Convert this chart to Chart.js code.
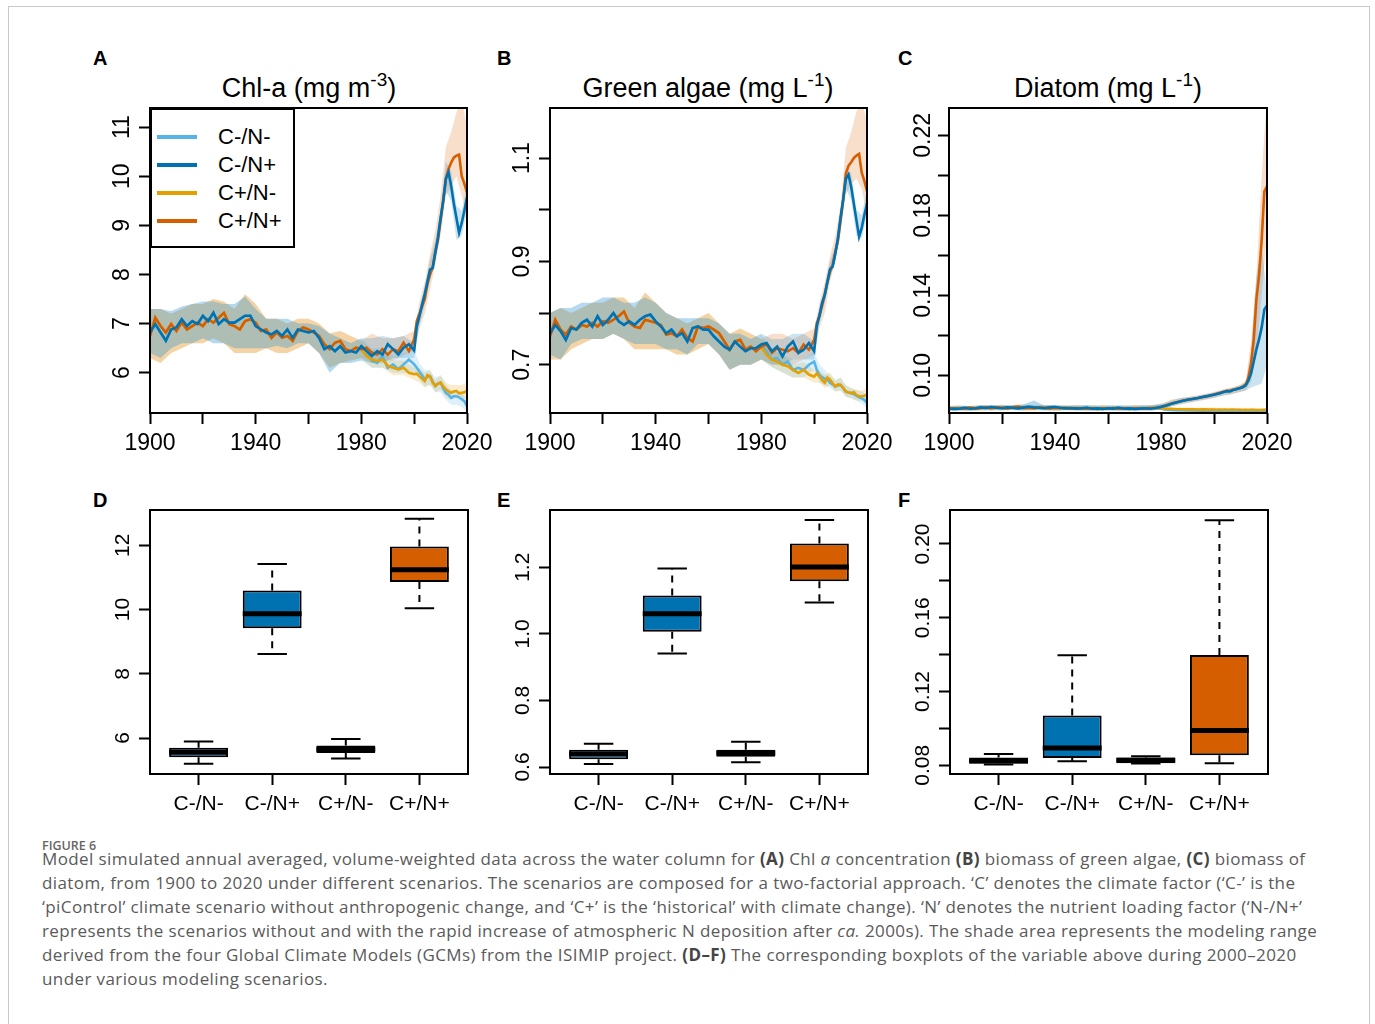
<!DOCTYPE html>
<html>
<head>
<meta charset="utf-8">
<script src="https://cdn.jsdelivr.net/npm/chart.js@4.4.1/dist/chart.umd.min.js"></script>
<style>
  body { margin: 0; width: 1375px; height: 1024px; overflow: hidden; position: relative; background: #fff;
         font-family: "Liberation Sans", Arial, sans-serif; color: #000; }
  .frame { position: absolute; left: 8px; top: 6px; width: 1362px; height: 1100px; border: 1px solid #c8c8c8; box-sizing: border-box; }
  canvas { position: absolute; }
  .letter { position: absolute; font-weight: bold; font-size: 20px; line-height: 20px; }
  .ttl { position: absolute; top: 75px; font-size: 27px; line-height: 27px; white-space: nowrap; transform: translateX(-50%); }
  .ttl span { font-size: 19px; position: relative; top: -11px; }
  #legend { position: absolute; left: 150px; top: 108px; width: 145px; height: 140px; border: 2px solid #000;
            box-sizing: border-box; background: #fff; z-index: 2; }
  #legend .row { position: absolute; left: 0; height: 28px; width: 140px; }
  #legend .swatch { position: absolute; left: 5px; top: 12px; width: 40px; height: 4px; }
  #legend .txt { position: absolute; left: 66px; top: 2px; font-size: 22px; line-height: 24px; }
  .cap { position: absolute; left: 42px; font-family: "Open Sans", sans-serif; color: #5a5a5a; white-space: nowrap; }
  .figno { top: 840px; font-size: 12.5px; line-height: 12.5px; font-weight: 600; color: #666; }
  .capline { font-size: 17px; line-height: 24px; letter-spacing: 0.4px; }
  .capline b { font-weight: 700; color: #444; }
</style>
</head>
<body>
<div class="frame"></div>

<div class="letter" style="left:93px; top:48px">A</div>
<div class="letter" style="left:497px; top:48px">B</div>
<div class="letter" style="left:898px; top:48px">C</div>
<div class="letter" style="left:93px; top:490px">D</div>
<div class="letter" style="left:497px; top:490px">E</div>
<div class="letter" style="left:898px; top:490px">F</div>

<div class="ttl" style="left:309px">Chl-a (mg m<span>-3</span>)</div>
<div class="ttl" style="left:708px">Green algae (mg L<span>-1</span>)</div>
<div class="ttl" style="left:1108px">Diatom (mg L<span>-1</span>)</div>

<canvas id="chartA"></canvas>
<canvas id="chartB"></canvas>
<canvas id="chartC"></canvas>
<canvas id="chartD"></canvas>
<canvas id="chartE"></canvas>
<canvas id="chartF"></canvas>
<div id="legend"></div>

<div class="cap figno">FIGURE 6</div>
<div class="cap capline" style="top:847px">Model simulated annual averaged, volume-weighted data across the water column for <b>(A)</b> Chl <i>a</i> concentration <b>(B)</b> biomass of green algae, <b>(C)</b> biomass of</div>
<div class="cap capline" style="top:871px">diatom, from 1900 to 2020 under different scenarios. The scenarios are composed for a two-factorial approach. ‘C’ denotes the climate factor (‘C-’ is the</div>
<div class="cap capline" style="top:895px">‘piControl’ climate scenario without anthropogenic change, and ‘C+’ is the ‘historical’ with climate change). ‘N’ denotes the nutrient loading factor (‘N-/N+’</div>
<div class="cap capline" style="top:919px">represents the scenarios without and with the rapid increase of atmospheric N deposition after <i>ca.</i> 2000s). The shade area represents the modeling range</div>
<div class="cap capline" style="top:943px">derived from the four Global Climate Models (GCMs) from the ISIMIP project. <b>(D–F)</b> The corresponding boxplots of the variable above during 2000–2020</div>
<div class="cap capline" style="top:967px">under various modeling scenarios.</div>

<script>
const FONT = '"Liberation Sans", Arial, sans-serif';

// scenarios
const seriesNames = ['C-/N-', 'C-/N+', 'C+/N-', 'C+/N+'];
const seriesColors = ['#56B4E9', '#0072B2', '#E69F00', '#D55E00'];
const bandColors = ['rgba(86,180,233,0.2)', 'rgba(0,114,178,0.2)', 'rgba(230,159,0,0.2)', 'rgba(213,94,0,0.2)'];

// years of the line series and of the GCM range bands
const years = [1900,1902,1904,1906,1908,1910,1912,1914,1916,1918,1920,1922,1924,1926,1928,1930,1932,1934,1936,1938,
  1940,1942,1944,1946,1948,1950,1952,1954,1956,1958,1960,1962,1964,1966,1968,1970,1972,1974,1976,1978,
  1980,1982,1984,1986,1988,1990,1992,1994,1996,1998,
  2000,2001,2002,2003,2004,2005,2006,2007,2008,2009,2010,2011,2012,2013,2014,2015,2016,2017,2018,2019,2020];
const bandYears = [1900,1904,1908,1912,1916,1920,1924,1928,1932,1936,1940,1944,1948,1952,1956,1960,1964,1968,1972,1976,
  1980,1984,1988,1992,1996,2000,2002,2004,2006,2008,2010,2012,2014,2016,2018,2020];
const xTicks = [1900, 1920, 1940, 1960, 1980, 2000, 2020];
const xTickLabels = ['1900', '', '1940', '', '1980', '', '2020'];

// ---- A: Chl-a ----
const chlCmNp = [6.82,6.99,6.82,6.65,6.88,6.92,7.09,6.95,7.05,6.99, 7.16,7.05,7.22,6.99,7.09,7.02,7.02,7.09,7.16,7.16,
  6.95,6.88,6.82,6.78,6.85,6.75,6.88,6.71,6.88,6.85, 6.82,6.85,6.71,6.48,6.54,6.44,6.54,6.41,6.44,6.41,
  6.54,6.44,6.34,6.44,6.37,6.58,6.48,6.37,6.51,6.58,
  6.45,6.95,7.15,7.39,7.6,7.85,8.10,8.13,8.45,8.75,9.15,9.5,9.95,10.08,9.8,9.45,9.15,8.85,9.05,9.3,9.57];
const chlCpNp = [6.75,7.12,6.95,6.82,6.99,6.85,7.02,6.88,6.95,7.02, 6.95,7.09,7.02,7.12,7.22,6.99,6.95,6.88,7.05,7.09,
  7.02,6.85,6.88,6.71,6.82,6.71,6.75,6.65,6.85,6.92, 6.88,6.82,6.75,6.58,6.48,6.61,6.65,6.48,6.44,6.51,
  6.48,6.51,6.41,6.37,6.48,6.37,6.48,6.44,6.61,6.44,
  6.68,7.05,7.2,7.35,7.5,7.8,8.0,8.15,8.45,8.7,9.1,9.5,9.95,10.15,10.28,10.38,10.42,10.44,10.0,9.85,9.67];
const chlCmNm = [6.82,6.99,6.82,6.65,6.88,6.92,7.09,6.95,7.05,6.99, 7.16,7.05,7.22,6.99,7.09,7.02,7.02,7.09,7.16,7.16,
  6.95,6.88,6.82,6.78,6.85,6.75,6.88,6.71,6.88,6.85, 6.82,6.85,6.71,6.48,6.54,6.44,6.54,6.41,6.44,6.41,
  6.54,6.44,6.24,6.20,6.34,6.10,6.17,6.07,6.17,6.27,
  6.17,6.1,6.02,5.95,5.86,5.92,5.93,5.82,5.73,5.78,5.80,5.68,5.59,5.55,5.49,5.52,5.52,5.5,5.46,5.42,5.32];
const chlCpNm = [6.75,7.12,6.95,6.82,6.99,6.85,7.02,6.88,6.95,7.02, 6.95,7.09,7.02,7.12,7.22,6.99,6.95,6.88,7.05,7.09,
  7.02,6.85,6.88,6.71,6.82,6.71,6.75,6.65,6.85,6.92, 6.88,6.82,6.75,6.58,6.48,6.61,6.65,6.48,6.44,6.51,
  6.48,6.34,6.27,6.24,6.27,6.14,6.10,6.07,6.10,6.0,
  5.97,5.98,5.93,5.88,5.83,5.95,5.93,5.8,5.73,5.78,5.80,5.72,5.66,5.62,5.59,5.62,5.63,5.58,5.59,5.6,5.63];
const chlLoCmNm = [6.4,6.3,6.5,6.6,6.6,6.7,6.6,6.6,6.5,6.5,6.5,6.5,6.55,6.5,6.6,6.6,6.4,6.0,6.2,6.2,6.25,6.1,6.1,6.0,6.0,
  6.0,5.85,5.72,5.75,5.6,5.6,5.45,5.35,5.35,5.3,5.2];
const chlHiCmNm = [7.3,7.3,7.25,7.35,7.4,7.45,7.45,7.4,7.4,7.55,7.3,7.1,7.1,7.1,7.0,7.0,6.95,6.8,6.7,6.6,6.7,6.5,6.5,6.35,6.4,
  6.45,6.2,6.05,6.05,5.9,5.95,5.75,5.65,5.65,5.6,5.45];
const chlLoCmNp = [6.4,6.3,6.5,6.6,6.6,6.7,6.6,6.6,6.5,6.5,6.5,6.5,6.55,6.5,6.6,6.6,6.4,6.0,6.2,6.2,6.25,6.2,6.2,6.3,6.3,
  6.3,6.95,7.4,7.9,8.25,8.95,9.7,9.5,8.7,8.8,9.3];
const chlHiCmNp = [7.3,7.3,7.25,7.35,7.4,7.45,7.45,7.4,7.4,7.55,7.3,7.1,7.1,7.1,7.0,7.0,6.95,6.8,6.7,6.6,6.7,6.7,6.75,6.7,6.75,
  6.6,7.3,7.75,8.3,8.7,9.3,10.3,10.1,9.4,9.3,9.8];
const chlLoCpNm = [6.3,6.2,6.4,6.5,6.6,6.6,6.7,6.6,6.4,6.4,6.4,6.5,6.4,6.4,6.5,6.6,6.4,6.1,6.2,6.25,6.3,6.1,6.1,5.95,5.95,
  5.85,5.8,5.7,5.75,5.6,5.65,5.5,5.45,5.5,5.45,5.5];
const chlHiCpNm = [7.3,7.3,7.2,7.3,7.4,7.4,7.5,7.45,7.3,7.6,7.4,7.1,7.1,7.0,7.1,7.1,7.0,6.8,6.85,6.75,6.65,6.45,6.45,6.25,6.25,
  6.1,6.1,6.0,6.05,5.85,5.95,5.8,5.75,5.75,5.75,5.8];
const chlLoCpNp = [6.3,6.2,6.4,6.5,6.6,6.6,6.7,6.6,6.4,6.4,6.4,6.5,6.4,6.4,6.5,6.6,6.4,6.1,6.2,6.25,6.3,6.2,6.25,6.25,6.35,
  6.45,6.9,7.2,7.7,8.2,8.8,9.6,9.8,10.0,9.6,9.2];
const chlHiCpNp = [7.3,7.3,7.2,7.3,7.4,7.4,7.5,7.45,7.3,7.6,7.4,7.1,7.1,7.0,7.1,7.1,7.0,6.8,6.85,6.75,6.65,6.8,6.7,6.7,6.75,
  6.85,7.45,7.85,8.4,8.9,9.6,10.6,10.9,11.3,11.6,11.0];
const chlYTicks = [6, 7, 8, 9, 10, 11];
const chlYLabels = ['6', '7', '8', '9', '10', '11'];

// ---- B: green algae ----
const greenCmNp = [.761,.777,.765,.748,.771,.768,.781,.787,.774,.794, .777,.787,.800,.784,.777,.784,.777,.787,.794,.797,
  .784,.774,.761,.768,.755,.761,.745,.771,.774,.768, .768,.755,.745,.735,.729,.745,.735,.726,.732,.732,
  .739,.742,.726,.735,.716,.735,.745,.723,.729,.742,
  .726,.775,.795,.82,.835,.86,.885,.89,.915,.945,.985,1.02,1.06,1.068,1.045,1.012,.98,.948,.965,.99,1.012];
const greenCpNp = [.755,.787,.768,.758,.774,.768,.777,.774,.781,.774, .784,.781,.787,.794,.803,.781,.774,.771,.787,.784,
  .781,.777,.758,.761,.755,.768,.752,.745,.774,.771, .774,.768,.761,.745,.729,.745,.748,.729,.735,.726,
  .735,.739,.723,.732,.729,.726,.732,.723,.739,.729,
  .748,.78,.795,.815,.835,.86,.88,.893,.918,.94,.98,1.02,1.07,1.085,1.092,1.1,1.105,1.108,1.072,1.056,1.036];
const greenCmNm = [.761,.777,.765,.748,.771,.768,.781,.787,.774,.794, .777,.787,.800,.784,.777,.784,.777,.787,.794,.797,
  .784,.774,.761,.768,.755,.761,.745,.771,.774,.768, .768,.755,.745,.735,.729,.745,.735,.726,.732,.732,
  .739,.726,.710,.713,.700,.706,.690,.694,.690,.700,
  .706,.69,.68,.676,.673,.672,.665,.662,.658,.66,.661,.655,.648,.646,.645,.643,.64,.637,.635,.632,.626];
const greenCpNm = [.755,.787,.768,.758,.774,.768,.777,.774,.781,.774, .784,.781,.787,.794,.803,.781,.774,.771,.787,.784,
  .781,.777,.758,.761,.755,.768,.752,.745,.774,.771, .774,.768,.761,.745,.729,.745,.748,.729,.735,.726,
  .735,.719,.710,.706,.700,.697,.690,.684,.690,.681,
  .677,.683,.677,.67,.665,.675,.671,.664,.658,.662,.661,.655,.648,.646,.645,.647,.641,.639,.639,.64,.642];
const greenLoCmNm = [.72,.71,.74,.75,.75,.75,.76,.75,.74,.74,.74,.73,.73,.72,.74,.74,.72,.69,.70,.70,.71,.695,.685,.675,.675,
  .69,.665,.66,.655,.648,.65,.638,.635,.63,.625,.615];
const greenHiCmNm = [.80,.81,.81,.82,.82,.83,.83,.82,.82,.83,.82,.80,.79,.79,.79,.79,.78,.76,.76,.75,.76,.73,.72,.71,.71,
  .725,.70,.69,.68,.67,.675,.66,.655,.65,.648,.64];
const greenLoCmNp = [.72,.71,.74,.75,.75,.75,.76,.75,.74,.74,.74,.73,.73,.72,.74,.74,.72,.69,.70,.70,.71,.70,.70,.71,.71,
  .71,.78,.82,.87,.90,.97,1.04,1.02,.95,.945,.99];
const greenHiCmNp = [.80,.81,.81,.82,.82,.83,.83,.82,.82,.83,.82,.80,.79,.79,.79,.79,.78,.76,.76,.75,.76,.75,.75,.76,.76,
  .745,.81,.85,.90,.93,1.0,1.08,1.07,1.0,.99,1.04];
const greenLoCpNm = [.71,.71,.73,.74,.75,.75,.76,.75,.73,.73,.73,.73,.72,.72,.73,.74,.72,.69,.70,.70,.71,.695,.685,.675,.675,
  .665,.665,.655,.66,.648,.65,.638,.635,.63,.63,.63];
const greenHiCpNm = [.80,.81,.80,.81,.82,.82,.83,.83,.81,.84,.82,.80,.79,.78,.79,.80,.78,.76,.77,.76,.75,.73,.72,.70,.705,
  .69,.69,.68,.685,.67,.675,.66,.655,.652,.65,.655];
const greenLoCpNp = [.71,.71,.73,.74,.75,.75,.76,.75,.73,.73,.73,.73,.72,.72,.73,.74,.72,.69,.70,.70,.71,.70,.70,.70,.71,
  .72,.77,.80,.86,.90,.955,1.03,1.05,1.06,1.04,.99];
const greenHiCpNp = [.80,.81,.80,.81,.82,.82,.83,.83,.81,.84,.82,.80,.79,.78,.79,.80,.78,.76,.77,.76,.75,.76,.76,.75,.76,
  .77,.82,.86,.91,.95,1.01,1.12,1.15,1.19,1.21,1.17];
const greenYTicks = [0.7, 0.8, 0.9, 1.0, 1.1];
const greenYLabels = ['0.7', '', '0.9', '', '1.1'];

// ---- C: diatom ----
const diaCmNp = [.0835,.0832,.0834,.0838,.0833,.0836,.0840,.0837,.0842,.0838, .0836,.0840,.0838,.0835,.0839,.0843,.0840,.0838,.0836,.0840,
  .0842,.0838,.0835,.0837,.0834,.0836,.0838,.0833,.0835,.0832, .0836,.0834,.0838,.0833,.0835,.0832,.0834,.0836,.0833,.0837,
  .0842,.0850,.0858,.0866,.0872,.0878,.0882,.0887,.0893,.0898,
  .0903,.0907,.0910,.0914,.0918,.0921,.0920,.0926,.0929,.0933,.0937,.0942,.0950,.0975,.101,.107,.113,.118,.124,.133,.135];
const diaCpNp = [.0832,.0836,.0833,.0835,.0839,.0834,.0837,.0840,.0836,.0841, .0838,.0835,.0840,.0844,.0837,.0839,.0836,.0840,.0838,.0835,
  .0839,.0836,.0838,.0834,.0837,.0833,.0836,.0835,.0832,.0835, .0833,.0837,.0834,.0836,.0832,.0835,.0833,.0835,.0837,.0838,
  .0843,.0851,.0860,.0866,.0873,.0878,.0883,.0887,.0892,.0897,
  .0905,.0908,.0912,.0916,.0920,.0924,.0922,.0928,.0931,.0935,.0938,.0945,.0955,.0990,.106,.118,.138,.150,.168,.192,.1945];
const diaCmNm = [.0835,.0832,.0834,.0838,.0833,.0836,.0840,.0837,.0842,.0838, .0836,.0840,.0838,.0835,.0839,.0843,.0840,.0838,.0836,.0840,
  .0842,.0838,.0835,.0837,.0834,.0836,.0838,.0833,.0835,.0832, .0836,.0834,.0838,.0833,.0835,.0832,.0834,.0836,.0833,.0837,
  .0834,.0829,.0827,.0826,.0826,.0825,.0825,.0824,.0825,.0824,
  .0824,.0823,.0824,.0823,.0824,.0823,.0823,.0824,.0823,.0822,.0823,.0822,.0823,.0822,.0822,.0823,.0822,.0822,.0821,.0822,.0822];
const diaCpNm = [.0832,.0836,.0833,.0835,.0839,.0834,.0837,.0840,.0836,.0841, .0838,.0835,.0840,.0844,.0837,.0839,.0836,.0840,.0838,.0835,
  .0839,.0836,.0838,.0834,.0837,.0833,.0836,.0835,.0832,.0835, .0833,.0837,.0834,.0836,.0832,.0835,.0833,.0835,.0837,.0838,
  .0836,.0833,.0832,.0831,.0831,.0830,.0830,.0829,.0830,.0829,
  .0829,.0828,.0829,.0828,.0829,.0828,.0828,.0829,.0828,.0828,.0828,.0827,.0828,.0827,.0828,.0828,.0827,.0827,.0827,.0828,.0828];
const diaLoCmNm = [.0825,.0826,.0824,.0827,.0826,.0828,.0827,.0826,.0828,.0826,.0825,.0827,.0826,.0825,.0824,.0826,.0825,.0824,.0826,.0825,.0830,
  .0818,.0817,.0817,.0816, .0816,.0815,.0816,.0815,.0815,.0814,.0815,.0814,.0814,.0813,.0813];
const diaHiCmNm = [.0845,.0848,.0846,.0850,.0852,.0849,.0851,.0854,.0875,.0850,.0852,.0848,.0850,.0851,.0848,.0849,.0850,.0848,.0850,.0851,.0858,
  .0838,.0836,.0835,.0835, .0834,.0834,.0833,.0834,.0833,.0832,.0833,.0832,.0832,.0832,.0831];
const diaLoCmNp = [.0825,.0826,.0824,.0827,.0826,.0828,.0827,.0826,.0828,.0826,.0825,.0827,.0826,.0825,.0824,.0826,.0825,.0824,.0826,.0825,.0830,
  .0845,.0858,.0868,.0878, .0888,.0895,.0902,.0905,.0912,.0918,.0925,.0940,.0950,.0960,.1050];
const diaHiCmNp = [.0845,.0848,.0846,.0850,.0852,.0849,.0851,.0854,.0875,.0850,.0852,.0848,.0850,.0851,.0848,.0849,.0850,.0848,.0850,.0851,.0858,
  .0875,.0890,.0895,.0905, .0915,.0922,.0930,.0935,.0942,.0952,.0965,.1120,.1500,.1650,.1400];
const diaLoCpNm = [.0822,.0824,.0823,.0825,.0826,.0825,.0827,.0824,.0825,.0826,.0824,.0826,.0825,.0824,.0823,.0825,.0824,.0823,.0825,.0824,.0828,
  .0822,.0821,.0821,.0820, .0820,.0820,.0819,.0820,.0819,.0819,.0819,.0818,.0818,.0818,.0818];
const diaHiCpNm = [.0848,.0850,.0847,.0852,.0849,.0853,.0850,.0855,.0851,.0852,.0850,.0849,.0851,.0850,.0849,.0850,.0848,.0849,.0851,.0850,.0856,
  .0842,.0840,.0840,.0839, .0839,.0838,.0839,.0838,.0838,.0838,.0837,.0838,.0837,.0837,.0837];
const diaLoCpNp = [.0822,.0824,.0823,.0825,.0826,.0825,.0827,.0824,.0825,.0826,.0824,.0826,.0825,.0824,.0823,.0825,.0824,.0823,.0825,.0824,.0828,
  .0845,.0857,.0866,.0876, .0887,.0893,.0900,.0905,.0910,.0917,.0925,.0970,.1120,.1400,.1700];
const diaHiCpNp = [.0848,.0850,.0847,.0852,.0849,.0853,.0850,.0855,.0851,.0852,.0850,.0849,.0851,.0850,.0849,.0850,.0848,.0849,.0851,.0850,.0856,
  .0880,.0888,.0896,.0906, .0918,.0925,.0932,.0938,.0945,.0955,.0975,.1170,.1500,.2000,.2400];
const diaYTicks = [0.10, 0.12, 0.14, 0.16, 0.18, 0.20, 0.22];
const diaYLabels = ['0.10', '', '0.14', '', '0.18', '', '0.22'];

// ---- D-F: boxplots 2000-2020 (lower whisker, q1, median, q3, upper whisker) ----
const boxCategories = ['C-/N-', 'C-/N+', 'C+/N-', 'C+/N+'];
const chlBoxLow = [5.20, 8.62, 5.36, 10.04];
const chlBoxQ1 = [5.40, 9.42, 5.53, 10.86];
const chlBoxMed = [5.56, 9.87, 5.65, 11.24];
const chlBoxQ3 = [5.70, 10.59, 5.77, 11.96];
const chlBoxHigh = [5.89, 11.42, 5.97, 12.83];
const greenBoxLow = [0.609, 0.941, 0.614, 1.094];
const greenBoxQ1 = [0.623, 1.006, 0.631, 1.158];
const greenBoxMed = [0.639, 1.060, 0.642, 1.201];
const greenBoxQ3 = [0.652, 1.115, 0.652, 1.271];
const greenBoxHigh = [0.670, 1.196, 0.676, 1.342];
const diaBoxLow = [0.0805, 0.0822, 0.0810, 0.0811];
const diaBoxQ1 = [0.0808, 0.0840, 0.0811, 0.0854];
const diaBoxMed = [0.0825, 0.0894, 0.0827, 0.0989];
const diaBoxQ3 = [0.0842, 0.1070, 0.0842, 0.1398];
const diaBoxHigh = [0.0862, 0.1397, 0.0849, 0.2128];
const chlBoxYTicks = [6, 8, 10, 12];
const chlBoxYLabels = ['6', '8', '10', '12'];
const greenBoxYTicks = [0.6, 0.8, 1.0, 1.2];
const greenBoxYLabels = ['0.6', '0.8', '1.0', '1.2'];
const diaBoxYTicks = [0.08, 0.10, 0.12, 0.14, 0.16, 0.18, 0.20];
const diaBoxYLabels = ['0.08', '', '0.12', '', '0.16', '', '0.20'];

const pts = (xs, ys) => xs.map((x, i) => ({ x: x, y: ys[i] }));

// black box round the plot region, like R's box()
const framePlugin = {
    id: 'frame',
    afterDatasetsDraw(chart) {
        const a = chart.chartArea, ctx = chart.ctx;
        ctx.save();
        ctx.strokeStyle = '#000';
        ctx.lineWidth = 2;
        ctx.strokeRect(a.left, a.top, a.right - a.left, a.bottom - a.top);
        ctx.restore();
    }
};

function axis(min, max, ticks, labels, isY, pad, size) {
    return {
        type: 'linear', min: min, max: max, bounds: 'data', offset: false,
        afterBuildTicks: s => { s.ticks = ticks.map(v => ({ value: v })); },
        afterFit: s => { if (isY) s.width = 70; else s.height = 55; },
        grid: { offset: false, drawOnChartArea: false, drawTicks: true, tickLength: 11, tickWidth: 2, tickColor: '#000' },
        border: { display: false },
        ticks: {
            autoSkip: false, color: '#000', padding: pad,
            font: { family: FONT, size: size },
            minRotation: isY ? 90 : 0, maxRotation: isY ? 90 : 0,
            crossAlign: isY ? 'center' : 'near',
            callback: (v, i) => labels[i]
        }
    };
}

function place(canvas, box) {
    canvas.width = box.r - box.l + 110;
    canvas.height = box.b - box.t + 85;
    canvas.style.left = (box.l - 70) + 'px';
    canvas.style.top = (box.t - 30) + 'px';
}

const drawOrder = [4, 1, 3, 2];   // light blue at the bottom, dark blue on top

function lineChart(id, box, yMin, yMax, yTicks, yLabels, yPad, lines, bands) {
    const canvas = document.getElementById(id);
    place(canvas, box);
    const datasets = [];
    lines.forEach((arr, i) => {
        datasets.push({
            data: pts(years, arr), borderColor: seriesColors[i], borderWidth: 2.6,
            pointRadius: 0, fill: false, tension: 0, order: drawOrder[i]
        });
    });
    bands.forEach((b, i) => {
        const loIndex = datasets.length;
        datasets.push({ data: pts(bandYears, b[0]), borderWidth: 0, borderColor: 'rgba(0,0,0,0)', pointRadius: 0, fill: false, order: 10 });
        datasets.push({ data: pts(bandYears, b[1]), borderWidth: 0, borderColor: 'rgba(0,0,0,0)', pointRadius: 0,
            fill: loIndex, backgroundColor: bandColors[i], order: 10 });
    });
    return new Chart(canvas, {
        type: 'line',
        data: { datasets: datasets },
        options: {
            responsive: false, animation: false, events: [],
            layout: { padding: { left: 0, top: 30, right: 40, bottom: 0 } },
            plugins: { legend: { display: false }, tooltip: { enabled: false } },
            scales: {
                x: axis(1900, 2020, xTicks, xTickLabels, false, 6, 23),
                y: axis(yMin, yMax, yTicks, yLabels, true, yPad, 23)
            }
        },
        plugins: [framePlugin]
    });
}

// whiskers, staples and medians drawn from the stats through the chart scales
const boxExtras = {
    id: 'boxExtras',
    afterDatasetsDraw(chart, args, opts) {
        const ctx = chart.ctx, xs = chart.scales.x, ys = chart.scales.y;
        const bars = chart.getDatasetMeta(0).data;
        ctx.save();
        ctx.strokeStyle = '#000';
        opts.med.forEach((m, i) => {
            const cx = xs.getPixelForValue(i + 1);
            const half = bars[i].width / 2;
            const cap = half / 2;
            const yLow = ys.getPixelForValue(opts.low[i]), yHigh = ys.getPixelForValue(opts.high[i]);
            const yQ1 = ys.getPixelForValue(opts.q1[i]), yQ3 = ys.getPixelForValue(opts.q3[i]);
            ctx.lineWidth = 2;
            ctx.setLineDash([7, 6]);
            ctx.beginPath();
            ctx.moveTo(cx, yQ3); ctx.lineTo(cx, yHigh);
            ctx.moveTo(cx, yQ1); ctx.lineTo(cx, yLow);
            ctx.stroke();
            ctx.setLineDash([]);
            ctx.beginPath();
            ctx.moveTo(cx - cap, yHigh); ctx.lineTo(cx + cap, yHigh);
            ctx.moveTo(cx - cap, yLow); ctx.lineTo(cx + cap, yLow);
            ctx.stroke();
            ctx.lineWidth = 5;
            ctx.beginPath();
            const yM = ys.getPixelForValue(m);
            ctx.moveTo(cx - half, yM); ctx.lineTo(cx + half, yM);
            ctx.stroke();
        });
        ctx.restore();
    }
};

function boxChart(id, box, yMin, yMax, yTicks, yLabels, yPad, low, q1, med, q3, high) {
    const canvas = document.getElementById(id);
    place(canvas, box);
    return new Chart(canvas, {
        type: 'bar',
        data: {
            datasets: [{
                data: boxCategories.map((c, i) => ({ x: i + 1, y: [q1[i], q3[i]] })),
                backgroundColor: seriesColors, borderColor: '#000', borderWidth: 2, borderSkipped: false,
                barPercentage: 1, categoryPercentage: 0.8
            }]
        },
        options: {
            responsive: false, animation: false, events: [],
            layout: { padding: { left: 0, top: 30, right: 40, bottom: 0 } },
            plugins: {
                legend: { display: false }, tooltip: { enabled: false },
                boxExtras: { low: low, q1: q1, med: med, q3: q3, high: high }
            },
            scales: {
                x: axis(0.34, 4.66, [1, 2, 3, 4], boxCategories, false, 7, 21),
                y: axis(yMin, yMax, yTicks, yLabels, true, yPad, 21)
            }
        },
        plugins: [boxExtras, framePlugin]
    });
}

lineChart('chartA', { l: 150, r: 467, t: 108, b: 413 }, 5.18, 11.39, chlYTicks, chlYLabels, 4,
    [chlCmNm, chlCmNp, chlCpNm, chlCpNp],
    [[chlLoCmNm, chlHiCmNm], [chlLoCmNp, chlHiCmNp], [chlLoCpNm, chlHiCpNm], [chlLoCpNp, chlHiCpNp]]);
lineChart('chartB', { l: 550, r: 867, t: 108, b: 413 }, 0.6065, 1.197, greenYTicks, greenYLabels, 0,
    [greenCmNm, greenCmNp, greenCpNm, greenCpNp],
    [[greenLoCmNm, greenHiCmNm], [greenLoCmNp, greenHiCmNp], [greenLoCpNm, greenHiCpNm], [greenLoCpNp, greenHiCpNp]]);
lineChart('chartC', { l: 949, r: 1267, t: 108, b: 413 }, 0.0812, 0.2337, diaYTicks, diaYLabels, -8,
    [diaCmNm, diaCmNp, diaCpNm, diaCpNp],
    [[diaLoCmNm, diaHiCmNm], [diaLoCmNp, diaHiCmNp], [diaLoCpNm, diaHiCpNm], [diaLoCpNp, diaHiCpNp]]);

boxChart('chartD', { l: 150, r: 468, t: 510, b: 774 }, 4.88, 13.10, chlBoxYTicks, chlBoxYLabels, 4,
    chlBoxLow, chlBoxQ1, chlBoxMed, chlBoxQ3, chlBoxHigh);
boxChart('chartE', { l: 550, r: 868, t: 510, b: 774 }, 0.579, 1.372, greenBoxYTicks, greenBoxYLabels, 1,
    greenBoxLow, greenBoxQ1, greenBoxMed, greenBoxQ3, greenBoxHigh);
boxChart('chartF', { l: 950, r: 1268, t: 510, b: 774 }, 0.0753, 0.2184, diaBoxYTicks, diaBoxYLabels, -5,
    diaBoxLow, diaBoxQ1, diaBoxMed, diaBoxQ3, diaBoxHigh);

// legend of panel A
const legend = document.getElementById('legend');
seriesNames.forEach((name, i) => {
    const row = document.createElement('div');
    row.className = 'row';
    row.style.top = (13 + i * 28) + 'px';
    row.innerHTML = '<div class="swatch" style="background:' + seriesColors[i] + '"></div><div class="txt">' + name + '</div>';
    legend.appendChild(row);
});
</script>
</body>
</html>
